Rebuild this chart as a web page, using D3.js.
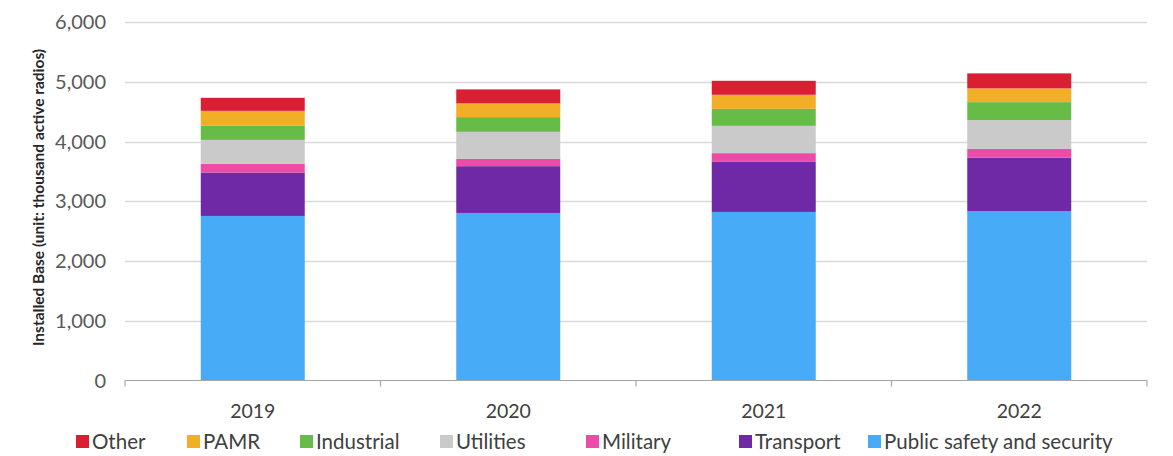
<!DOCTYPE html>
<html>
<head>
<meta charset="utf-8">
<script src="https://cdn.jsdelivr.net/npm/d3@7"></script>
<style>
  html, body { margin: 0; padding: 0; background: #fff; }
  svg { display: block; }
  text { font-family: Lato, "Open Sans", sans-serif; }
</style>
</head>
<body>
<svg id="chart" width="1173" height="456"></svg>
<script>
// ---- data ----
const years = ["2019", "2020", "2021", "2022"];
const publicSafety = [2754, 2804, 2821, 2837];
const transport    = [727, 783, 838, 895];
const military     = [144, 122, 146, 145];
const utilities    = [402, 453, 457, 481];
const industrial   = [242, 246, 285, 301];
const pamr         = [244, 230, 235, 230];
const other        = [218, 234, 234, 251];
const seriesNames  = ["Public safety and security", "Transport", "Military", "Utilities", "Industrial", "PAMR", "Other"];
const legendOrder  = ["Other", "PAMR", "Industrial", "Utilities", "Military", "Transport", "Public safety and security"];
const yTicks       = [0, 1000, 2000, 3000, 4000, 5000, 6000];
const yTitle       = "Installed Base (unit: thousand active radios)";

// ---- styling ----
const colors = {
  "Public safety and security": "#48abf7",
  "Transport": "#7029a6",
  "Military": "#ed4ba8",
  "Utilities": "#cacaca",
  "Industrial": "#67bc47",
  "PAMR": "#f3ae27",
  "Other": "#d91f31"
};
const seriesValues = [publicSafety, transport, military, utilities, industrial, pamr, other];
const table = years.map((yr, i) => {
  const row = { year: yr };
  seriesNames.forEach((n, k) => row[n] = seriesValues[k][i]);
  return row;
});

const svg = d3.select("#chart");
const plotLeft = 125, plotRight = 1147, plotTop = 22, plotBottom = 380.5;

const x = d3.scaleBand().domain(years).range([plotLeft, plotRight]).paddingInner(0.593).paddingOuter(0.2965);
const xCat = d3.scaleBand().domain(years).range([plotLeft, plotRight]).padding(0);
const y = d3.scaleLinear().domain([0, 6000]).range([plotBottom, plotTop]);

// gridlines
svg.append("g").selectAll("line").data(yTicks.filter(t => t > 0)).join("line")
  .attr("x1", plotLeft).attr("x2", plotRight)
  .attr("y1", d => Math.round(y(d)) + 0.5).attr("y2", d => Math.round(y(d)) + 0.5)
  .attr("stroke", "#d9d9d9").attr("stroke-width", 1.3);

// y tick labels
svg.append("g").selectAll("text").data(yTicks).join("text")
  .attr("x", 106).attr("y", d => y(d)).attr("dy", "0.36em")
  .attr("text-anchor", "end").attr("font-size", 20).attr("fill", "#595959")
  .text(d => d3.format(",")(d));

// y title
svg.append("text")
  .attr("transform", `translate(44, ${(32 + 363) / 2}) rotate(-90)`)
  .attr("text-anchor", "middle").attr("font-size", 15.5).attr("font-weight", "bold").attr("fill", "#262626")
  .text(yTitle);

// stacked bars
const stack = d3.stack().keys(seriesNames)(table);
svg.append("g").selectAll("g").data(stack).join("g")
  .attr("fill", d => colors[d.key])
  .selectAll("rect").data(d => d).join("rect")
  .attr("x", d => x(d.data.year))
  .attr("width", x.bandwidth())
  .attr("y", d => y(d[1]))
  .attr("height", d => y(d[0]) - y(d[1]));

// x axis
const xAxis = svg.append("g");
xAxis.append("line").attr("x1", plotLeft).attr("x2", plotRight).attr("y1", plotBottom).attr("y2", plotBottom)
  .attr("stroke", "#a6a6a6").attr("stroke-width", 1.2);
const boundaries = years.map(yv => xCat(yv)).concat([plotRight]);
xAxis.selectAll("line.tick").data(boundaries).join("line").attr("class", "tick")
  .attr("x1", d => d).attr("x2", d => d).attr("y1", plotBottom).attr("y2", plotBottom + 6)
  .attr("stroke", "#a6a6a6").attr("stroke-width", 1.2);
xAxis.selectAll("text").data(years).join("text")
  .attr("x", d => xCat(d) + xCat.bandwidth() / 2).attr("y", 418)
  .attr("text-anchor", "middle").attr("font-size", 19.5).attr("fill", "#404040")
  .text(d => d);

// legend
const legendTextX = [92, 203, 316, 456, 602, 755, 884];
const leg = svg.append("g").selectAll("g").data(legendOrder).join("g")
  .attr("transform", (d, i) => `translate(${legendTextX[i]}, 0)`);
leg.append("rect").attr("x", -16).attr("y", 435).attr("width", 13).attr("height", 13)
  .attr("fill", d => colors[d]);
leg.append("text").attr("x", 0).attr("y", 449).attr("font-size", 20.5).attr("fill", "#404040")
  .text(d => d);
</script>
</body>
</html>
